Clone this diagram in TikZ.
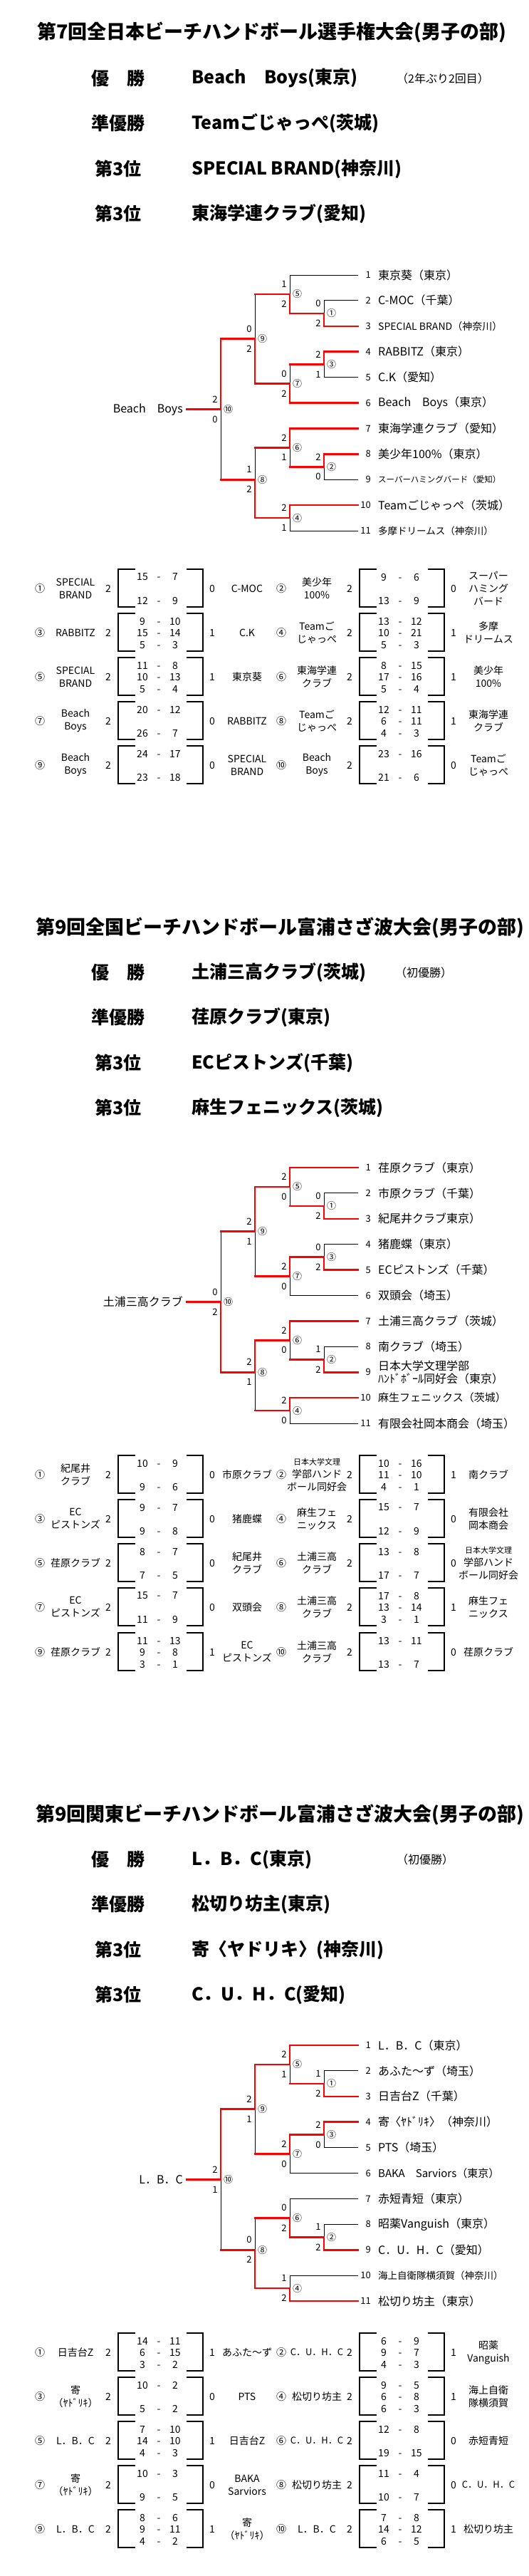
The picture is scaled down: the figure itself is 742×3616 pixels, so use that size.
\documentclass[tikz,border=0pt]{standalone}
\usepackage{fontspec}
\setmainfont{Noto Sans CJK JP}
\newcommand{\pts}[2]{\makebox[22pt]{#1}\makebox[24pt]{-}\makebox[22pt]{#2}}
\begin{document}
\begin{tikzpicture}[x=1pt, y=-1pt,
    lose/.style={black, line width=1pt},
    win/.style={red, line width=2.6pt, line cap=rect},
    bracket/.style={black, line width=2pt},
    heading/.style={anchor=west, inner sep=0pt, font=\bfseries\fontsize{27}{30}\selectfont},
    rank/.style={inner sep=0pt, font=\bfseries\fontsize{25}{28}\selectfont},
    champ/.style={anchor=west, inner sep=0pt, font=\bfseries\fontsize{25}{28}\selectfont},
    remark/.style={anchor=west, inner sep=0pt, font=\fontsize{16}{18}\selectfont},
    teamname/.style={anchor=west, inner sep=0pt, align=left, font=\fontsize{16}{18}\selectfont},
    teamno/.style={anchor=east, inner sep=0pt, font=\fontsize{13}{15}\selectfont},
    setscore/.style={inner sep=0pt, font=\fontsize{13}{15}\selectfont},
    matchno/.style={inner sep=0pt, font=\fontsize{13}{15}\selectfont},
    cell/.style={inner sep=0pt, align=center, font=\fontsize{14}{18}\selectfont}]

\fill[white] (0,0) rectangle (742,3616);
\useasboundingbox (0,0) rectangle (742,3616);

% titles and placings
\node[heading] (heada) at (52,45) {第7回全日本ビーチハンドボール選手権大会(男子の部)};
\node[heading] (headb) at (50,1302) {第9回全国ビーチハンドボール富浦さざ波大会(男子の部)};
\node[heading] (headc) at (50,2547) {第9回関東ビーチハンドボール富浦さざ波大会(男子の部)};
\foreach \hid/\hy/\lab/\name in {
    a1/110/優　勝/{Beach　Boys(東京)}, a2/173/準優勝/{Teamごじゃっぺ(茨城)},
    a3/237/第3位/{SPECIAL BRAND(神奈川)}, a4/300/第3位/{東海学連クラブ(愛知)},
    b1/1365/優　勝/{土浦三高クラブ(茨城)}, b2/1428/準優勝/{荏原クラブ(東京)},
    b3/1492/第3位/{ECピストンズ(千葉)}, b4/1555/第3位/{麻生フェニックス(茨城)},
    c1/2610/優　勝/{L．B．C(東京)}, c2/2673/準優勝/{松切り坊主(東京)},
    c3/2737/第3位/{寄〈ヤドリキ〉(神奈川)}, c4/2800/第3位/{C．U．H．C(愛知)}}
  {\node[rank] (rank\hid) at (166,\hy) {\lab};
   \node[champ] (champ\hid) at (269,\hy) {\name};}
\node[remark] (rema) at (557,110) {（2年ぶり2回目）};
\node[remark] (remb) at (555,1365) {（初優勝）};
\node[remark] (remc) at (557,2610) {（初優勝）};

% draws
\foreach \sn/\yo/\wins/\scores in {
    a/386/{t3/m1, t4/m3, t8/m2, m1/m5, t6/m7, t7/m6, t10/m4, m7/m9, m4/m8, m9/m10}/%
      {m1/0/2, m3/2/1, m2/2/0, m5/1/2, m7/0/2, m6/2/1, m4/2/1, m9/0/2, m8/1/2, m10/2/0},
    b/1639/{t3/m1, t5/m3, t9/m2, t1/m5, m3/m7, t7/m6, t10/m4, m5/m9, m6/m8, m8/m10}/%
      {m1/0/2, m3/0/2, m2/1/2, m5/2/0, m7/2/0, m6/2/0, m4/2/0, m9/2/1, m8/2/1, m10/0/2},
    c/2871/{t3/m1, t4/m3, t9/m2, t1/m5, m3/m7, m2/m6, t11/m4, m5/m9, m4/m8, m9/m10}/%
      {m1/1/2, m3/2/0, m2/1/2, m5/2/1, m7/2/0, m6/0/2, m4/1/2, m9/2/1, m8/0/2, m10/2/1}}
{
  \foreach \i in {1,...,11}
    \coordinate (\sn t\i) at (503, \yo+35.9*\i-35.9);
  \foreach \m/\x/\r in {m1/455/53.9, m3/455/125.7, m2/455/269.3, m5/407/26.9, m7/407/152.6,
                        m6/407/242.3, m4/407/341.1, m9/358/89.7, m8/358/287.2, m10/310/188.5}
    \coordinate (\sn\m) at (\x, \yo+\r);
  \coordinate (\sn champ) at (262, \yo+188.5);
  \foreach \kid/\mum in {t2/m1, t3/m1, t4/m3, t5/m3, t8/m2, t9/m2, t1/m5, m1/m5, m3/m7, t6/m7,
                         t7/m6, m2/m6, t10/m4, t11/m4, m5/m9, m7/m9, m6/m8, m4/m8, m9/m10, m8/m10}
    \draw[lose] (\sn\kid) -- (\sn\kid -| \sn\mum) -- (\sn\mum);
  \foreach \kid/\mum in {m1/m5, m3/m7, m2/m6, m4/m8, m5/m9, m7/m9, m6/m8, m9/m10, m8/m10}
    \draw[win] (\sn\kid) -- (\sn\kid -| \sn\mum);
  \foreach \kid/\mum in \wins
    \draw[win] (\sn\kid) -- (\sn\kid -| \sn\mum) -- (\sn\mum);
  \draw[win] (\sn m10) -- (\sn champ);
  \foreach \m/\hi/\lo in \scores {
    \node[setscore] (\sn h\m) at ([shift={(-8,-14)}]\sn\m) {\hi};
    \node[setscore] (\sn l\m) at ([shift={(-8,14)}]\sn\m) {\lo};
  }
  \foreach \m/\cn in {m1/①, m2/②, m3/③, m4/④, m5/⑤, m6/⑥, m7/⑦, m8/⑧, m9/⑨, m10/⑩}
    \node[matchno] (\sn n\m) at ([xshift=10.5pt]\sn\m) {\cn};
}

% teams
\foreach \i/\nm in {1/東京葵（東京）, 2/C-MOC（千葉）, 3/{\fontsize{14}{16}\selectfont SPECIAL BRAND（神奈川）},
    4/RABBITZ（東京）, 5/C.K（愛知）, 6/Beach　Boys（東京）, 7/東海学連クラブ（愛知）, 8/美少年100\%（東京）,
    9/{\fontsize{11.5}{14}\selectfont スーパーハミングバード（愛知）}, 10/Teamごじゃっぺ（茨城）,
    11/{\fontsize{13.5}{16}\selectfont 多摩ドリームス（神奈川）}}
  {\node[teamno] (ak\i) at (521, 386+35.9*\i-35.9) {\i};
   \node[teamname] (an\i) at (531, 386+35.9*\i-35.9) {\nm};}
\foreach \i/\nm in {1/荏原クラブ（東京）, 2/市原クラブ（千葉）, 3/紀尾井クラブ東京）, 4/猪鹿蝶（東京）,
    5/ECピストンズ（千葉）, 6/双頭会（埼玉）, 7/土浦三高クラブ（茨城）, 8/南クラブ（埼玉）,
    9/{日本大学文理学部\\ﾊﾝﾄﾞﾎﾞｰﾙ同好会（東京）}, 10/{\fontsize{15}{18}\selectfont 麻生フェニックス（茨城）},
    11/有限会社岡本商会（埼玉）}
  {\node[teamno] (bk\i) at (521, 1639+35.9*\i-35.9) {\i};
   \node[teamname] (bn\i) at (531, 1639+35.9*\i-35.9) {\nm};}
\foreach \i/\nm in {1/L．B．C（東京）, 2/あふた〜ず（埼玉）, 3/日吉台Z（千葉）, 4/寄〈ﾔﾄﾞﾘｷ〉（神奈川）,
    5/PTS（埼玉）, 6/{\fontsize{15}{18}\selectfont BAKA　Sarviors（東京）}, 7/赤短青短（東京）,
    8/昭薬Vanguish（東京）, 9/C．U．H．C（愛知）,
    10/{\fontsize{13.5}{16}\selectfont 海上自衛隊横須賀（神奈川）}, 11/松切り坊主（東京）}
  {\node[teamno] (ck\i) at (521, 2871+35.9*\i-35.9) {\i};
   \node[teamname] (cn\i) at (531, 2871+35.9*\i-35.9) {\nm};}
\node[teamname, anchor=east] (acn) at ([xshift=-5pt]achamp) {Beach　Boys};
\node[teamname, anchor=east] (bcn) at ([xshift=-5pt]bchamp) {土浦三高クラブ};
\node[teamname, anchor=east] (ccn) at ([xshift=-5pt]cchamp) {L．B．C};

% results
\foreach \colx/\rowy/\mno/\tma/\gma/\ptop/\pmid/\pbot/\gmb/\tmb in {
    0/799/①/{SPECIAL\\BRAND}/2/{\pts{15}{7}}/{}/{\pts{12}{9}}/0/C-MOC,
    339/799/②/{美少年\\100\%}/2/{\pts{9}{6}}/{}/{\pts{13}{9}}/0/{スーパー\\ハミング\\バード},
    0/861/③/RABBITZ/2/{\pts{9}{10}}/{\pts{15}{14}}/{\pts{5}{3}}/1/C.K,
    339/861/④/{Teamご\\じゃっぺ}/2/{\pts{13}{12}}/{\pts{10}{21}}/{\pts{5}{3}}/1/{多摩\\ドリームス},
    0/923/⑤/{SPECIAL\\BRAND}/2/{\pts{11}{8}}/{\pts{10}{13}}/{\pts{5}{4}}/1/東京葵,
    339/923/⑥/{東海学連\\クラブ}/2/{\pts{8}{15}}/{\pts{17}{16}}/{\pts{5}{4}}/1/{美少年\\100\%},
    0/985/⑦/{Beach\\Boys}/2/{\pts{20}{12}}/{}/{\pts{26}{7}}/0/RABBITZ,
    339/985/⑧/{Teamご\\じゃっぺ}/2/{\pts{12}{11}}/{\pts{6}{11}}/{\pts{4}{3}}/1/{東海学連\\クラブ},
    0/1047/⑨/{Beach\\Boys}/2/{\pts{24}{17}}/{}/{\pts{23}{18}}/0/{SPECIAL\\BRAND},
    339/1047/⑩/{Beach\\Boys}/2/{\pts{23}{16}}/{}/{\pts{21}{6}}/0/{Teamご\\じゃっぺ},
    % second
    0/2043/①/{紀尾井\\クラブ}/2/{\pts{10}{9}}/{}/{\pts{9}{6}}/0/市原クラブ,
    339/2043/②/{\fontsize{11}{14}\selectfont 日本大学文理\\学部ハンド\\ボール同好会}/2/{\pts{10}{16}}/{\pts{11}{10}}/{\pts{4}{1}}/1/南クラブ,
    0/2105/③/{EC\\ピストンズ}/2/{\pts{9}{7}}/{}/{\pts{9}{8}}/0/猪鹿蝶,
    339/2105/④/{麻生フェ\\ニックス}/2/{\pts{15}{7}}/{}/{\pts{12}{9}}/0/{有限会社\\岡本商会},
    0/2167/⑤/荏原クラブ/2/{\pts{8}{7}}/{}/{\pts{7}{5}}/0/{紀尾井\\クラブ},
    339/2167/⑥/{土浦三高\\クラブ}/2/{\pts{13}{8}}/{}/{\pts{17}{7}}/0/{\fontsize{11}{14}\selectfont 日本大学文理\\学部ハンド\\ボール同好会},
    0/2229/⑦/{EC\\ピストンズ}/2/{\pts{15}{7}}/{}/{\pts{11}{9}}/0/双頭会,
    339/2229/⑧/{土浦三高\\クラブ}/2/{\pts{17}{8}}/{\pts{13}{14}}/{\pts{3}{1}}/1/{麻生フェ\\ニックス},
    0/2292/⑨/荏原クラブ/2/{\pts{11}{13}}/{\pts{9}{8}}/{\pts{3}{1}}/1/{EC\\ピストンズ},
    339/2292/⑩/{土浦三高\\クラブ}/2/{\pts{13}{11}}/{}/{\pts{13}{7}}/0/荏原クラブ,
    % third
    0/3275/①/日吉台Z/2/{\pts{14}{11}}/{\pts{6}{15}}/{\pts{3}{2}}/1/あふた〜ず,
    339/3275/②/{\fontsize{13}{18}\selectfont C．U．H．C}/2/{\pts{6}{9}}/{\pts{9}{7}}/{\pts{4}{3}}/1/{昭薬\\Vanguish},
    0/3337/③/{寄\\（ﾔﾄﾞﾘｷ）}/2/{\pts{10}{2}}/{}/{\pts{5}{2}}/0/PTS,
    339/3337/④/松切り坊主/2/{\pts{9}{5}}/{\pts{6}{8}}/{\pts{6}{3}}/1/{海上自衛\\隊横須賀},
    0/3399/⑤/L．B．C/2/{\pts{7}{10}}/{\pts{14}{10}}/{\pts{4}{3}}/1/日吉台Z,
    339/3399/⑥/{\fontsize{13}{18}\selectfont C．U．H．C}/2/{\pts{12}{8}}/{}/{\pts{19}{15}}/0/赤短青短,
    0/3461/⑦/{寄\\（ﾔﾄﾞﾘｷ）}/2/{\pts{10}{3}}/{}/{\pts{9}{5}}/0/{BAKA\\Sarviors},
    339/3461/⑧/松切り坊主/2/{\pts{11}{4}}/{}/{\pts{10}{7}}/0/{\fontsize{13}{18}\selectfont C．U．H．C},
    0/3523/⑨/L．B．C/2/{\pts{8}{6}}/{\pts{9}{11}}/{\pts{4}{2}}/1/{寄\\（ﾔﾄﾞﾘｷ）},
    339/3523/⑩/L．B．C/2/{\pts{7}{8}}/{\pts{14}{12}}/{\pts{6}{5}}/1/松切り坊主}
{
  \draw[bracket] (\colx+190,\rowy) -- (\colx+166,\rowy) -- (\colx+166,\rowy+53) -- (\colx+190,\rowy+53);
  \draw[bracket] (\colx+262,\rowy) -- (\colx+285,\rowy) -- (\colx+285,\rowy+53) -- (\colx+262,\rowy+53);
  \node[cell] (r\rowy c\colx no) at (\colx+56,\rowy+27) {\mno};
  \node[cell] (r\rowy c\colx a) at (\colx+106,\rowy+27) {\tma};
  \node[cell] (r\rowy c\colx ga) at (\colx+152,\rowy+27) {\gma};
  \node[cell] (r\rowy c\colx p1) at (\colx+223,\rowy+11) {\ptop};
  \node[cell] (r\rowy c\colx p2) at (\colx+223,\rowy+27.5) {\pmid};
  \node[cell] (r\rowy c\colx p3) at (\colx+223,\rowy+44.5) {\pbot};
  \node[cell] (r\rowy c\colx gb) at (\colx+298,\rowy+27) {\gmb};
  \node[cell] (r\rowy c\colx b) at (\colx+347,\rowy+27) {\tmb};
}
\end{tikzpicture}
\end{document}
